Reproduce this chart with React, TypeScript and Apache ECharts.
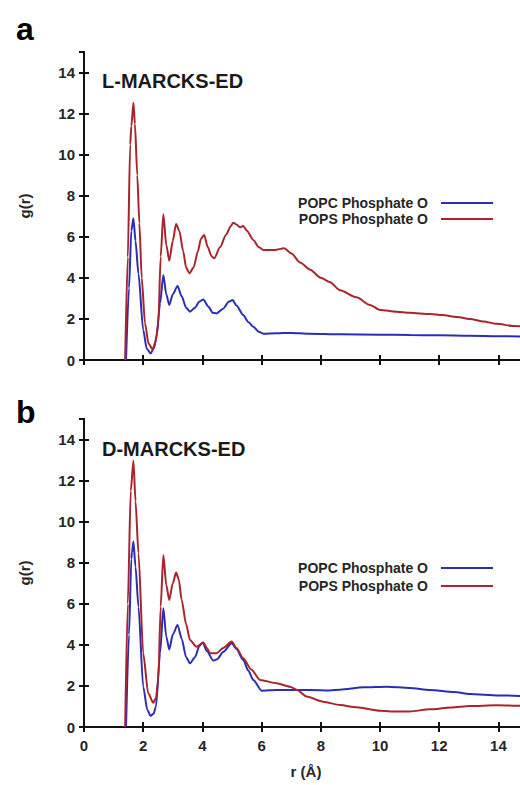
import React, { useEffect, useRef } from "react";
import * as echarts from "echarts";

// ---- data ----
const xTicks = [0, 2, 4, 6, 8, 10, 12, 14];
const yTicks = [0, 2, 4, 6, 8, 10, 12, 14];

// Panel a: L-MARCKS-ED
const rA_PC = [1.42, 1.52, 1.6, 1.67, 1.74, 1.84, 2.0, 2.12, 2.25, 2.37, 2.45, 2.57, 2.68, 2.78, 2.88, 3.0, 3.16, 3.3, 3.45, 3.58, 3.75, 3.9, 4.03, 4.2, 4.35, 4.48, 4.7, 4.9, 5.02, 5.15, 5.38, 5.55, 5.72, 5.9, 6.06, 6.5, 7.0, 7.6, 8.65, 10, 11, 12, 13, 14, 15];
const gA_PC = [0, 3.5, 6.3, 6.9, 5.8, 4.2, 1.46, 0.55, 0.32, 0.6, 1.14, 2.76, 4.14, 3.2, 2.68, 3.2, 3.6, 3.1, 2.55, 2.35, 2.55, 2.85, 2.95, 2.6, 2.3, 2.27, 2.5, 2.85, 2.92, 2.65, 2.19, 1.85, 1.62, 1.38, 1.28, 1.3, 1.32, 1.28, 1.25, 1.23, 1.22, 1.2, 1.18, 1.16, 1.13];

const rA_PS = [1.39, 1.48, 1.56, 1.6, 1.67, 1.72, 1.8, 1.87, 1.95, 2.06, 2.18, 2.32, 2.42, 2.51, 2.59, 2.68, 2.78, 2.88, 3.0, 3.11, 3.22, 3.35, 3.45, 3.56, 3.7, 3.85, 3.95, 4.06, 4.18, 4.31, 4.4, 4.6, 4.8, 4.95, 5.04, 5.15, 5.27, 5.38, 5.5, 5.72, 5.9, 6.06, 6.45, 6.76, 7.0, 7.3, 7.64, 8.0, 8.3, 8.65, 9.21, 9.66, 10.0, 10.56, 11.0, 11.7, 12.1, 12.6, 13.04, 13.5, 13.94, 14.5, 15];
const gA_PS = [0, 5, 10.5, 11.4, 12.53, 11.5, 9, 6.66, 4, 1.79, 0.8, 0.52, 0.9, 1.79, 5.03, 7.1, 5.6, 4.84, 5.8, 6.62, 6.3, 5.3, 4.5, 4.22, 4.5, 5.3, 5.9, 6.09, 5.5, 5.05, 4.95, 5.5, 6.1, 6.5, 6.69, 6.6, 6.46, 6.53, 6.3, 5.85, 5.5, 5.36, 5.36, 5.44, 5.2, 4.75, 4.4, 4.0, 3.8, 3.4, 3.05, 2.68, 2.44, 2.35, 2.3, 2.24, 2.19, 2.1, 2.0, 1.88, 1.76, 1.66, 1.6];

// Panel b: D-MARCKS-ED
const rB_PC = [1.42, 1.52, 1.6, 1.62, 1.67, 1.74, 1.84, 2.0, 2.14, 2.25, 2.35, 2.43, 2.57, 2.68, 2.78, 2.88, 3.0, 3.16, 3.3, 3.45, 3.58, 3.75, 3.9, 4.01, 4.15, 4.37, 4.5, 4.7, 4.99, 5.15, 5.38, 5.55, 5.72, 6.0, 6.51, 7.64, 8.31, 8.65, 9.44, 10.23, 11.0, 11.69, 12.5, 13.04, 14, 15];
const gB_PC = [0, 4.5, 8.2, 8.5, 9.03, 7.8, 5.86, 1.96, 0.83, 0.54, 0.65, 0.99, 3.59, 5.78, 4.4, 3.78, 4.5, 4.97, 4.3, 3.4, 3.1, 3.4, 3.95, 4.11, 3.7, 3.23, 3.3, 3.65, 4.08, 3.8, 3.26, 2.75, 2.29, 1.77, 1.8, 1.8, 1.78, 1.82, 1.93, 1.96, 1.9, 1.8, 1.7, 1.61, 1.54, 1.5];

const rB_PS = [1.39, 1.48, 1.58, 1.67, 1.74, 1.84, 2.0, 2.17, 2.34, 2.43, 2.51, 2.59, 2.68, 2.78, 2.88, 3.0, 3.11, 3.2, 3.3, 3.45, 3.58, 3.8, 4.03, 4.15, 4.26, 4.48, 4.7, 4.99, 5.15, 5.38, 5.65, 5.95, 6.51, 6.96, 7.2, 7.52, 8.08, 8.65, 9.21, 10, 10.56, 11.0, 11.69, 12.4, 13.04, 13.94, 15];
const gB_PS = [0, 6, 11.5, 12.97, 11, 8.46, 3.59, 1.64, 1.18, 1.4, 2.29, 5.86, 8.38, 6.9, 6.19, 7.0, 7.52, 7.2, 6.19, 5.0, 4.24, 3.91, 4.11, 3.85, 3.59, 3.59, 3.85, 4.16, 3.85, 3.35, 2.8, 2.29, 2.13, 1.96, 1.8, 1.48, 1.23, 1.07, 0.96, 0.79, 0.75, 0.76, 0.86, 0.95, 1.02, 1.06, 1.02];

const seriesNames = ["POPC Phosphate O", "POPS Phosphate O"];
const panelTitles = ["L-MARCKS-ED", "D-MARCKS-ED"];
const panelLetters = ["a", "b"];

const BLUE = "#2a2eb4";
const RED = "#a8252b";
const FONT = "'Liberation Sans', Arial, sans-serif";
const TXT = "#262626";

const pairs = (xs: number[], ys: number[]) => xs.map((x, i) => [x, ys[i]]);

export default function App() {
  const ref = useRef<HTMLDivElement>(null);

  useEffect(() => {
    if (!ref.current) return;
    const chart = echarts.init(ref.current, undefined, { renderer: "svg" });

    // chart canvas is 534 wide; the page shows the first 520px (plot box runs past the right edge)
    const grids = [
      { left: 84, right: 6, top: 52, height: 308 },
      { left: 84, right: 6, top: 419, height: 308 },
    ];

    const axisLine = { show: true, lineStyle: { color: "#111", width: 2 } };
    const axisTick = { show: true, inside: true, length: 5, lineStyle: { color: "#111", width: 2 } };
    const labelStyle = { fontFamily: FONT, fontWeight: "bold" as const, fontSize: 15, color: TXT };

    const xAxes: any[] = [];
    const yAxes: any[] = [];
    [0, 1].forEach((g) => {
      xAxes.push({
        type: "value", gridIndex: g, min: 0, max: 15, interval: 2, position: "bottom",
        axisLine, axisTick, splitLine: { show: false },
        axisLabel: {
          show: g === 1, ...labelStyle, margin: 11, showMaxLabel: false,
          formatter: (v: number) => (xTicks.includes(v) ? String(v) : ""),
        },
        name: g === 1 ? "r (Å)" : "",
        nameLocation: "middle", nameGap: 37,
        nameTextStyle: { fontFamily: FONT, fontWeight: "bold", fontSize: 15, color: TXT },
      });
      xAxes.push({
        type: "value", gridIndex: g, min: 0, max: 15, interval: 2, position: "top",
        axisLine, axisTick, splitLine: { show: false }, axisLabel: { show: false },
      });
      yAxes.push({
        type: "value", gridIndex: g, min: 0, max: 15, interval: 2, position: "left",
        axisLine, axisTick, splitLine: { show: false },
        axisLabel: {
          ...labelStyle, margin: 9, showMaxLabel: false,
          formatter: (v: number) => (yTicks.includes(v) ? String(v) : ""),
        },
        name: "g(r)", nameLocation: "middle", nameGap: 52, nameRotate: 90,
        nameTextStyle: { fontFamily: FONT, fontWeight: "bold", fontSize: 15, color: TXT },
      });
      yAxes.push({
        type: "value", gridIndex: g, min: 0, max: 15, interval: 2, position: "right",
        axisLine, axisTick, splitLine: { show: false }, axisLabel: { show: false },
      });
    });

    const mk = (name: string, color: string, xi: number, yi: number, data: number[][]) => ({
      name, type: "line", xAxisIndex: xi, yAxisIndex: yi, data,
      showSymbol: false, symbol: "none", smooth: 0.25, smoothMonotone: "x",
      lineStyle: { color, width: 2 }, itemStyle: { color },
      clip: true, z: color === RED ? 3 : 2,
    });

    const legendCommon = {
      orient: "vertical", right: 36, align: "right",
      icon: "rect", itemWidth: 52, itemHeight: 2, itemGap: 0,
      textStyle: { fontFamily: FONT, fontWeight: "bold", fontSize: 14, color: TXT, lineHeight: 16, padding: [0, 8, 0, 0] },
      data: seriesNames, selectedMode: false,
    };

    const option: any = {
      animation: false,
      backgroundColor: "#ffffff",
      grid: grids,
      xAxis: xAxes,
      yAxis: yAxes,
      legend: [
        { ...legendCommon, top: 190 },
        { ...legendCommon, top: 555, itemGap: 2 },
      ],
      series: [
        mk(seriesNames[0], BLUE, 0, 0, pairs(rA_PC, gA_PC)),
        mk(seriesNames[1], RED, 0, 0, pairs(rA_PS, gA_PS)),
        mk(seriesNames[0], BLUE, 2, 2, pairs(rB_PC, gB_PC)),
        mk(seriesNames[1], RED, 2, 2, pairs(rB_PS, gB_PS)),
      ],
      graphic: [
        { type: "text", left: 16, top: 13, style: { text: panelLetters[0], font: `bold 32px ${FONT}`, fill: "#000" } },
        { type: "text", left: 16, top: 396, style: { text: panelLetters[1], font: `bold 32px ${FONT}`, fill: "#000" } },
        { type: "text", left: 102, top: 71, style: { text: panelTitles[0], font: `bold 20px ${FONT}`, fill: "#1a1a1a" } },
        { type: "text", left: 102, top: 439, style: { text: panelTitles[1], font: `bold 20px ${FONT}`, fill: "#1a1a1a" } },
      ],
    };

    chart.setOption(option);
    return () => chart.dispose();
  }, []);

  return (
    <div style={{ position: "absolute", left: 0, top: 0, width: 520, height: 785, overflow: "hidden", background: "#fff" }}>
      <div ref={ref} style={{ width: 534, height: 785 }} />
    </div>
  );
}
